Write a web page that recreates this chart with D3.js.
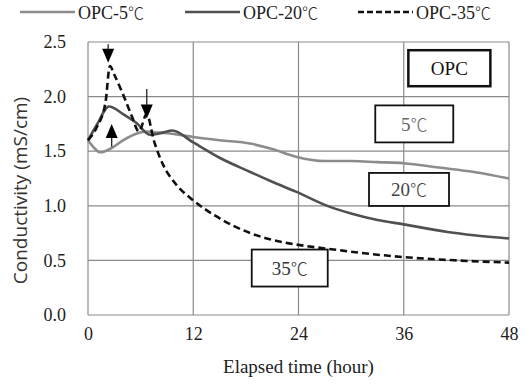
<!DOCTYPE html>
<html>
<head>
<meta charset="utf-8">
<script src="https://cdn.jsdelivr.net/npm/d3@7"></script>
<style>
  body { margin: 0; background: #fff; }
  svg text { font-family: "Liberation Serif", "Times New Roman", serif; }
</style>
</head>
<body>
<div id="chart"></div>
<script>
// datos (hora, mS/cm)
const hours5  = [0, 0.7, 1.4, 2.5, 4, 5.5, 6.7, 8, 9.5, 12, 15, 18.5, 21, 23.7, 27, 30, 33, 36, 40, 44, 48];
const opc5    = [1.60, 1.53, 1.49, 1.52, 1.60, 1.66, 1.68, 1.67, 1.66, 1.63, 1.60, 1.57, 1.52, 1.45, 1.41, 1.41, 1.40, 1.39, 1.35, 1.31, 1.25];
const hours20 = [0, 1, 2.4, 4, 5.5, 7.1, 8.5, 9.6, 12, 15, 18.5, 21, 23.7, 27.6, 30, 33, 36, 41, 44, 48];
const opc20   = [1.60, 1.74, 1.91, 1.84, 1.76, 1.65, 1.67, 1.69, 1.58, 1.44, 1.31, 1.22, 1.13, 0.99, 0.93, 0.87, 0.83, 0.76, 0.73, 0.70];
const hours35 = [0, 1, 2, 2.5, 3, 4, 5, 5.8, 6.7, 7.5, 8.6, 10, 12, 14.7, 18.5, 22.3, 25, 28, 31, 36, 42, 48];
const opc35   = [1.60, 1.72, 1.95, 2.28, 2.20, 2.02, 1.82, 1.68, 1.84, 1.60, 1.37, 1.20, 1.05, 0.90, 0.75, 0.665, 0.63, 0.60, 0.57, 0.53, 0.50, 0.48];

const xTicks = [0, 12, 24, 36, 48];
const yTicks = [0.0, 0.5, 1.0, 1.5, 2.0, 2.5];

const seriesNames = ["OPC-5", "OPC-20", "OPC-35"];
const seriesColors = ["#8c8c8c", "#505050", "#111"];

// anotaciones: flechas (hora, valor inicio, valor punta)
const arrows = [
  { t: 2.3, from: 2.48, to: 2.31 },
  { t: 6.7, from: 2.07, to: 1.80 },
  { t: 2.7, from: 1.54, to: 1.75 }
];
// cajas de texto (hora y valor del centro)
const boxes = [
  { label: "OPC", deg: false, t: 41.2, v: 2.26, w: 82, h: 36, bold: true, color: "#111" },
  { label: "5",   deg: true,  t: 37.2, v: 1.75, w: 78, h: 37, bold: false, color: "#666" },
  { label: "20",  deg: true,  t: 36.6, v: 1.15, w: 80, h: 33, bold: false, color: "#444" },
  { label: "35",  deg: true,  t: 23.0, v: 0.43, w: 76, h: 37, bold: false, color: "#333" }
];

const W = 529, H = 387;
const margin = { top: 42, right: 20, bottom: 72, left: 88 },
      width  = W - margin.left - margin.right,
      height = H - margin.top - margin.bottom;

const svg = d3.select("#chart")
  .append("svg")
    .attr("width", W)
    .attr("height", H);

const g = svg.append("g")
    .attr("transform", `translate(${margin.left}, ${margin.top})`);

const x = d3.scaleLinear().domain([0, 48]).range([0, width]);
const y = d3.scaleLinear().domain([0, 2.5]).range([height, 0]);

// texto con ℃ ancho (glifo CJK)
function addLabel(sel, txt, deg, size) {
  sel.append("tspan").text(txt);
  if (deg) sel.append("tspan")
    .style("font-family", "'Noto Sans CJK JP'")
    .attr("font-weight", 300)
    .attr("font-size", size)
    .text("℃");
}

// rejilla
g.append("g")
  .selectAll("line.h")
  .data(yTicks)
  .join("line")
    .attr("x1", 0).attr("x2", width)
    .attr("y1", d => y(d)).attr("y2", d => y(d))
    .attr("stroke", "#8a8a8a").attr("stroke-width", 1.2);

g.append("g")
  .selectAll("line.v")
  .data(xTicks)
  .join("line")
    .attr("x1", d => x(d)).attr("x2", d => x(d))
    .attr("y1", 0).attr("y2", height)
    .attr("stroke", "#8a8a8a").attr("stroke-width", 1.2);

// ejes
const xAxis = d3.axisBottom(x).tickValues(xTicks).tickSize(0).tickPadding(12);
const yAxis = d3.axisLeft(y).tickValues(yTicks).tickSize(0).tickPadding(22)
  .tickFormat(d3.format(".1f"));

g.append("g")
  .attr("transform", `translate(0, ${height})`)
  .call(xAxis)
  .call(a => a.select(".domain").remove())
  .selectAll("text")
    .attr("font-family", "Liberation Serif")
    .attr("font-size", 18).attr("fill", "#222");

g.append("g")
  .call(yAxis)
  .call(a => a.select(".domain").remove())
  .selectAll("text")
    .attr("font-family", "Liberation Serif")
    .attr("font-size", 18).attr("fill", "#222");

// títulos de ejes
svg.append("text")
  .attr("x", margin.left + width / 2)
  .attr("y", 373)
  .attr("text-anchor", "middle")
  .attr("font-size", 19)
  .attr("fill", "#222")
  .text("Elapsed time (hour)");

svg.append("text")
  .attr("transform", `translate(27, ${margin.top + height / 2 + 12}) rotate(-90)`)
  .attr("text-anchor", "middle")
  .style("font-family", "'Open Sans', 'Liberation Sans', sans-serif")
  .attr("font-size", 19)
  .attr("fill", "#333")
  .text("Conductivity (mS/cm)");

// líneas
const line = d3.line()
  .x(d => x(d[0]))
  .y(d => y(d[1]))
  .curve(d3.curveMonotoneX);

const series = [
  d3.zip(hours5, opc5),
  d3.zip(hours20, opc20),
  d3.zip(hours35, opc35)
];

series.forEach((s, i) => {
  g.append("path")
    .datum(s)
    .attr("fill", "none")
    .attr("stroke", seriesColors[i])
    .attr("stroke-width", 2.6)
    .attr("stroke-dasharray", i === 2 ? "7,4" : null)
    .attr("d", line);
});

// flechas
arrows.forEach(a => {
  const ax = x(a.t), y0 = y(a.from), y1 = y(a.to);
  const dir = y1 > y0 ? 1 : -1;
  g.append("line")
    .attr("x1", ax).attr("x2", ax)
    .attr("y1", y0).attr("y2", y1 - dir * 12)
    .attr("stroke", "#222").attr("stroke-width", 1.3);
  g.append("path")
    .attr("d", d3.line()([[ax - 6, y1 - dir * 14], [ax + 6, y1 - dir * 14], [ax, y1]]) + "Z")
    .attr("fill", "#000");
});

// cajas de texto
boxes.forEach(b => {
  const cx = x(b.t), cy = y(b.v);
  g.append("rect")
    .attr("x", cx - b.w / 2).attr("y", cy - b.h / 2)
    .attr("width", b.w).attr("height", b.h)
    .attr("fill", "#fff")
    .attr("stroke", "#111")
    .attr("stroke-width", b.bold ? 2.5 : 1.8);
  const t = g.append("text")
    .attr("x", cx).attr("y", cy + 7)
    .attr("text-anchor", "middle")
    .attr("font-size", 19)
    .attr("fill", b.color);
  addLabel(t, b.label, b.deg, 17);
});

// leyenda
const legend = svg.append("g").attr("transform", "translate(0, 12)");
const legendX = [20, 185, 358];
seriesNames.forEach((n, i) => {
  legend.append("line")
    .attr("x1", legendX[i]).attr("x2", legendX[i] + 55)
    .attr("y1", 0).attr("y2", 0)
    .attr("stroke", seriesColors[i])
    .attr("stroke-width", 2.6)
    .attr("stroke-dasharray", i === 2 ? "6,3" : null);
  const t = legend.append("text")
    .attr("x", legendX[i] + 58).attr("y", 7)
    .attr("font-size", 18)
    .attr("fill", "#222");
  addLabel(t, n, true, 16);
});
</script>
</body>
</html>
